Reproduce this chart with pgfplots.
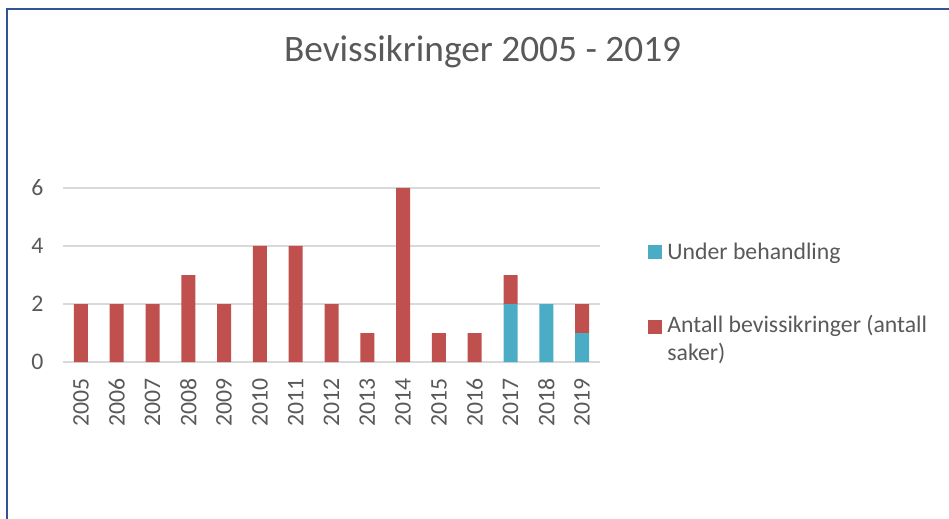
\documentclass[border=0pt]{standalone}
\usepackage{fontspec}
\setmainfont{Carlito}
\usepackage{pgfplots}
\pgfplotsset{compat=1.18}
\definecolor{redbar}{HTML}{C0504D}
\definecolor{bluebar}{HTML}{4BACC6}
\definecolor{txt}{HTML}{595959}
\definecolor{gridc}{HTML}{D9D9D9}
\definecolor{frame}{HTML}{2F5597}
\pgfplotsset{
  legA/.style={legend image code/.code={\fill[##1] (0pt,-5.25pt) rectangle (10.5pt,5.25pt); \path[draw=none,fill=none] (0pt,0pt) rectangle (12.5pt,0.1pt);}},
  legB/.style={legend image code/.code={\fill[##1] (0pt,3.5pt) rectangle (10.5pt,14pt); \path[draw=none,fill=none] (0pt,-13.5pt) rectangle (12.5pt,-13.4pt);}},
}
\begin{document}
\begin{tikzpicture}
\useasboundingbox (0pt,0pt) rectangle (711.75pt,388.5pt);
\draw[frame,line width=1.8pt] (5.25pt,-5pt) -- (5.25pt,381.75pt) -- (716pt,381.75pt);
\node[txt,font=\fontsize{28}{33}\selectfont] at (361.9pt,349.5pt) {Bevissikringer 2005 - 2019};
\begin{axis}[
  at={(47.25pt,117pt)}, anchor=south west,
  scale only axis, width=402.75pt, height=130.5pt,
  ybar stacked, bar width=10.5pt,
  xmin=-0.5, xmax=14.5, ymin=0, ymax=6,
  xtick=data,
  xticklabels={2005,2006,2007,2008,2009,2010,2011,2012,2013,2014,2015,2016,2017,2018,2019},
  ytick={0,2,4,6},
  ymajorgrids, grid style={gridc,line width=1.1pt},
  axis line style={draw=none},
  major tick length=0pt,
  tick label style={txt,font=\fontsize{17.8}{21}\selectfont},
  /pgf/number format/assume math mode=true,
  xticklabel style={rotate=90,anchor=east,inner sep=0pt},
  xticklabel shift=12pt,
  yticklabel style={inner sep=0pt},
  yticklabel shift=14.5pt,
  legend style={at={(1.089,0.70)},anchor=north west,draw=none,fill=none,
    inner sep=0pt,font=\fontsize{17.8}{21}\selectfont,text=txt,
    nodes={align=left,inner sep=2pt},row sep=36pt},
  legend cell align=left,
]
\addplot[fill=bluebar,draw=none,legA]
  coordinates {(0,0) (1,0) (2,0) (3,0) (4,0) (5,0) (6,0) (7,0) (8,0) (9,0) (10,0) (11,0) (12,2) (13,2) (14,1)};
\addplot[fill=redbar,draw=none,legB]
  coordinates {(0,2) (1,2) (2,2) (3,3) (4,2) (5,4) (6,4) (7,2) (8,1) (9,6) (10,1) (11,1) (12,1) (13,0) (14,1)};
\legend{Under behandling,{Antall bevissikringer (antall\\saker)}}
\end{axis}
\end{tikzpicture}
\end{document}
